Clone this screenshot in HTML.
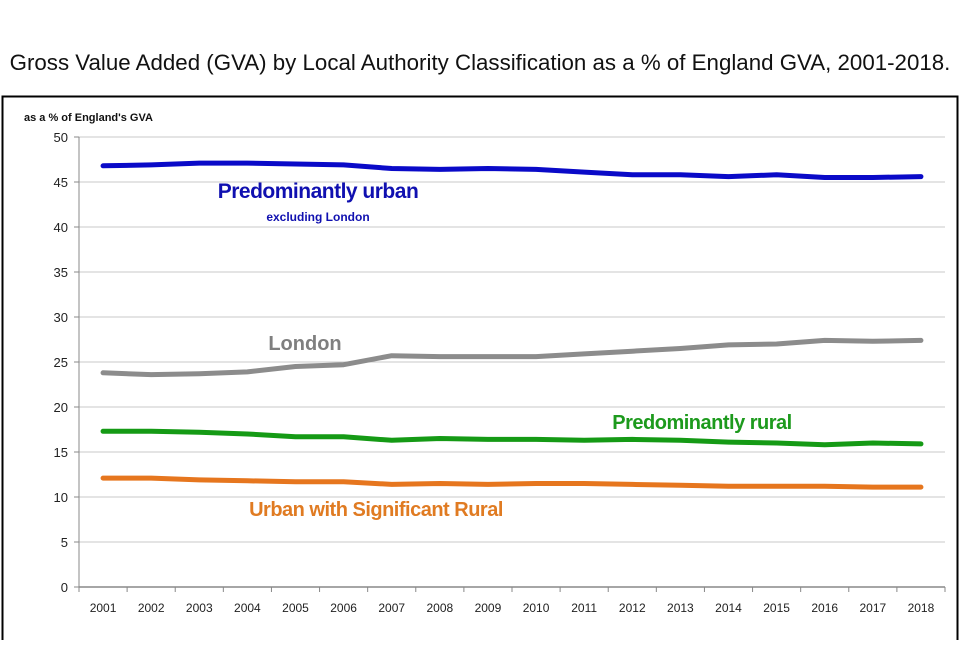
<!DOCTYPE html>
<html><head><meta charset="utf-8"><style>
body{margin:0;background:#fff;width:960px;height:640px;overflow:hidden;font-family:"Liberation Sans",sans-serif}
</style></head><body>
<svg width="960" height="640" xmlns="http://www.w3.org/2000/svg">
<text x="480" y="70" text-anchor="middle" font-size="22.3" fill="#111">Gross Value Added (GVA) by Local Authority Classification as a % of England GVA, 2001-2018.</text>
<rect x="2.5" y="96.5" width="955" height="560" fill="none" stroke="#000" stroke-width="2"/>
<text x="24" y="121" font-size="11" font-weight="bold" fill="#111">as a % of England's GVA</text>
<g id="grid"></g><g id="axes"></g><g id="lines"></g>
<text x="318" y="198" text-anchor="middle" font-size="21" font-weight="bold" fill="#1010b0" letter-spacing="-0.5">Predominantly urban</text>
<text x="318" y="221" text-anchor="middle" font-size="12" font-weight="bold" fill="#1010b0">excluding London</text>
<text x="305" y="350" text-anchor="middle" font-size="20" font-weight="bold" fill="#7f7f7f">London</text>
<text x="702" y="429" text-anchor="middle" font-size="20" font-weight="bold" fill="#1d9a1d" letter-spacing="-0.5">Predominantly rural</text>
<text x="376" y="516" text-anchor="middle" font-size="20" font-weight="bold" fill="#e07b22" letter-spacing="-0.5">Urban with Significant Rural</text>
</svg>
<script>
const years=[2001,2002,2003,2004,2005,2006,2007,2008,2009,2010,2011,2012,2013,2014,2015,2016,2017,2018];
const urban=[46.8,46.9,47.1,47.1,47.0,46.9,46.5,46.4,46.5,46.4,46.1,45.8,45.8,45.6,45.8,45.5,45.5,45.6];
const london=[23.8,23.6,23.7,23.9,24.5,24.7,25.7,25.6,25.6,25.6,25.9,26.2,26.5,26.9,27.0,27.4,27.3,27.4];
const rural=[17.3,17.3,17.2,17.0,16.7,16.7,16.3,16.5,16.4,16.4,16.3,16.4,16.3,16.1,16.0,15.8,16.0,15.9];
const usr=[12.1,12.1,11.9,11.8,11.7,11.7,11.4,11.5,11.4,11.5,11.5,11.4,11.3,11.2,11.2,11.2,11.1,11.1];
const yTicks=[0,5,10,15,20,25,30,35,40,45,50];
const NS="http://www.w3.org/2000/svg";
const L=79,R=945,T=137,B=587,yMax=50;
const bw=(R-L)/years.length;
const x=i=>L+bw*(i+0.5);
const y=v=>B-(v/yMax)*(B-T);
function mk(p,t,a){const e=document.createElementNS(NS,t);for(const k in a)e.setAttribute(k,a[k]);document.getElementById(p).appendChild(e);return e;}
yTicks.forEach(v=>{
 if(v>0){const g=mk('grid','line',{x1:L,x2:R,y1:y(v),y2:y(v),stroke:'#c8c8c8','stroke-width':1});
 
 }
 const tk=mk('axes','line',{x1:L-5,x2:L,y1:y(v),y2:y(v),stroke:'#888'});
 
 
 const t=mk('axes','text',{x:L-11,y:y(v)+5,'text-anchor':'end','font-size':13,fill:'#222'});
 t.textContent=v;
 
 
});
const ya=mk('axes','line',{x1:L,x2:L,y1:T,y2:B,stroke:'#888'});


const xa=mk('axes','line',{x1:L,x2:R,y1:B,y2:B,stroke:'#888','stroke-width':1.5});


for(let i=0;i<=years.length;i++){const tk=mk('axes','line',{x1:L+bw*i,x2:L+bw*i,y1:B,y2:B+5,stroke:'#888'});
 
 }
years.forEach((yr,i)=>{const t=mk('axes','text',{x:x(i),y:B+25,'text-anchor':'middle','font-size':12,fill:'#222'});
 t.textContent=yr;
 
 });
[[urban,'#0a0ac8','series-predominantly-urban'],[london,'#8c8c8c','series-london'],[rural,'#159a15','series-predominantly-rural'],[usr,'#e6761e','series-urban-significant-rural']].forEach(([d,c,n])=>{
 const p=mk('lines','polyline',{points:d.map((v,i)=>x(i)+','+y(v)).join(' '),fill:'none',stroke:c,'stroke-width':5,'stroke-linejoin':'round','stroke-linecap':'round'});
 
 
});
</script>
</body></html>
